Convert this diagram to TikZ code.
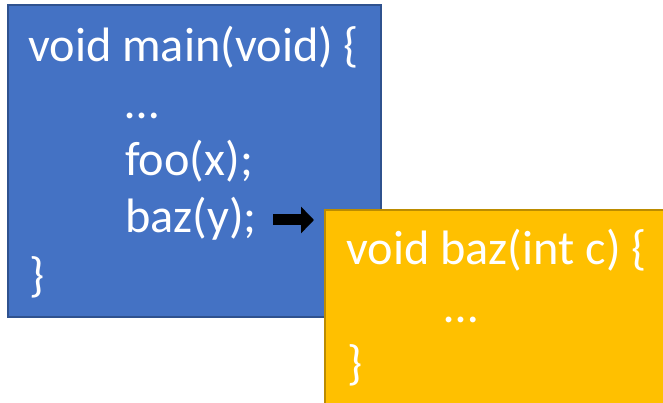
\documentclass[tikz,border=0pt]{standalone}
\usepackage{fontspec}
\setmainfont{Carlito}
\usetikzlibrary{arrows.meta}
\definecolor{mainfill}{HTML}{4472C4}
\definecolor{mainedge}{HTML}{2F528F}
\definecolor{calleefill}{HTML}{FFC000}
\definecolor{calleeedge}{HTML}{BC8C00}
\begin{document}
\begin{tikzpicture}[x=1pt,y=-1pt,
  code/.style={anchor=base west,inner sep=0pt,text=white,
    font=\fontsize{48.3}{57}\selectfont},
  frame/.style={line width=2pt}]
\useasboundingbox (0,0) rectangle (663,403);
% caller: main
\filldraw[frame,fill=mainfill,draw=mainedge] (8,5) rectangle (381,317);
\node[code] (m1) at (28,62) {void main(void) \{};
\node[code] (m2) at (125,119) {…};
\node[code] (m3) at (125,176) {foo(x);};
\node[code] (m4) at (125,233) {baz(y);};
\node[code] (m5) at (29,291) {\}};
% callee: baz
\filldraw[frame,fill=calleefill,draw=calleeedge] (325,210) rectangle (670,410);
\node[code] (b1) at (346,264) {void baz(int c) \{};
\node[code] (b2) at (444,322) {…};
\node[code] (b3) at (347,379) {\}};
% call arrow
\coordinate (callfrom) at (273,220);
\coordinate (callto) at (314,220);
\draw[line width=11pt,-{Triangle[length=13pt,width=26pt]}] (callfrom) -- (callto);
\end{tikzpicture}
\end{document}
